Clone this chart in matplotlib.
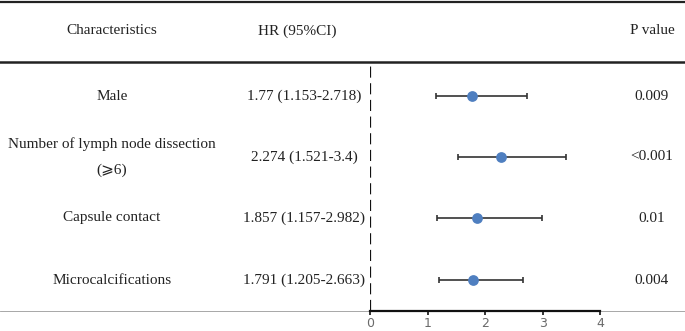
import matplotlib
matplotlib.use("Agg")
import matplotlib.pyplot as plt

plt.rcParams['font.family'] = ['Liberation Serif', 'DejaVu Serif', 'DejaVu Sans']

characteristics = ["Male", "Number of lymph node dissection\n(\u2a7e6)", "Capsule contact", "Microcalcifications"]
hr = [1.77, 2.274, 1.857, 1.791]
lower = [1.153, 1.521, 1.157, 1.205]
upper = [2.718, 3.4, 2.982, 2.663]
hr_text = ["1.77 (1.153-2.718)", "2.274 (1.521-3.4)", "1.857 (1.157-2.982)", "1.791 (1.205-2.663)"]
p_text = ["0.009", "<0.001", "0.01", "0.004"]
ticks = [0, 1, 2, 3, 4]

W, H = 685, 331
fig = plt.figure(figsize=(W / 100, H / 100), dpi=100)

# background axes in pixel coordinates
bg = fig.add_axes([0, 0, 1, 1])
bg.set_xlim(0, W)
bg.set_ylim(H, 0)
bg.axis('off')

row_y = [96, 157, 218, 280]
fs = 11
tc = '#222222'
bg.plot([0, W], [1.5, 1.5], color='#222222', lw=1.6)
bg.plot([0, W], [62, 62], color='#222222', lw=1.8)
bg.plot([0, W], [311, 311], color='#999999', lw=0.6)

bg.text(112, 31, "Characteristics", ha='center', va='center', fontsize=fs, color=tc)
bg.text(297, 31, "HR (95%CI)", ha='center', va='center', fontsize=fs, color=tc)
bg.text(652, 31, "P value", ha='center', va='center', fontsize=fs, color=tc)

for y, c, h, p in zip(row_y, characteristics, hr_text, p_text):
    bg.text(112, y, c, ha='center', va='center', fontsize=fs, color=tc, linespacing=2.2)
    bg.text(304, y, h, ha='center', va='center', fontsize=fs, color=tc)
    bg.text(652, y, p, ha='center', va='center', fontsize=fs, color=tc)

# forest axes
x0px, scale = 370, 57.6
ax = fig.add_axes([x0px / W, (H - 311) / H, (W - x0px) / W, (311 - 62) / H])
ax.set_xlim(0, (W - x0px) / scale)
ax.set_ylim(311, 62)
ax.patch.set_alpha(0)
for s in ['top', 'right', 'left']:
    ax.spines[s].set_visible(False)
ax.spines['bottom'].set_bounds(0, 4)
ax.spines['bottom'].set_linewidth(1.6)
ax.spines['bottom'].set_color('#111111')
ax.set_yticks([])
ax.set_xticks(ticks)
ax.set_xticklabels([str(t) for t in ticks], family='DejaVu Sans')
ax.tick_params(axis='x', length=3, width=1.2, color='#111111', labelsize=9, labelcolor='#6a6a6a', pad=1)
ax.axvline(0, color='#111111', lw=1.6, ls=(0, (5, 2.5)))

xerr = [[h - l for h, l in zip(hr, lower)], [u - h for h, u in zip(hr, upper)]]
ax.errorbar(hr, row_y, xerr=xerr, fmt='none', ecolor='#333333', elinewidth=1.2, capsize=2.5, capthick=1.2)
ax.scatter(hr, row_y, s=60, color='#4f7fc0', zorder=3, linewidths=0)

fig.savefig("out.png", dpi=100)
